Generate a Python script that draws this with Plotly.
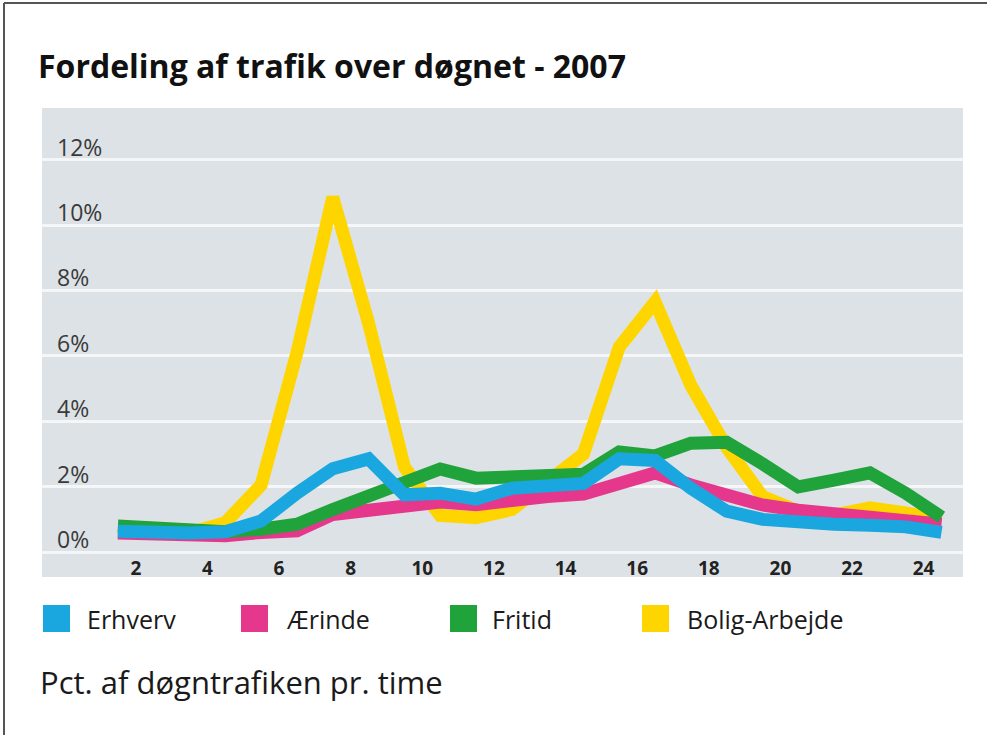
import plotly.graph_objects as go

# ---- data ----
hours = list(range(1, 25))
x_ticks = [2, 4, 6, 8, 10, 12, 14, 16, 18, 20, 22, 24]
y_ticks = [0, 2, 4, 6, 8, 10, 12]
y_tick_labels = ["0%", "2%", "4%", "6%", "8%", "10%", "12%"]

erhverv = [0.64, 0.60, 0.58, 0.62, 0.95, 1.80, 2.55, 2.85, 1.75, 1.80, 1.62, 1.95,
           2.05, 2.10, 2.85, 2.80, 1.95, 1.25, 1.00, 0.88, 0.85, 0.82, 0.77, 0.60]
aerinde = [0.58, 0.55, 0.52, 0.50, 0.60, 0.65, 1.15, 1.28, 1.50, 1.53, 1.45, 1.62,
           1.70, 1.77, 2.05, 2.42, 2.05, 1.74, 1.44, 1.28, 1.16, 1.04, 0.95, 0.85]
fritid = [0.80, 0.72, 0.65, 0.62, 0.70, 0.85, 1.30, 1.71, 2.05, 2.54, 2.26, 2.29,
          2.32, 2.38, 3.06, 2.94, 3.33, 3.36, 2.70, 1.99, 2.20, 2.42, 1.80, 1.07]
bolig = [0.60, 0.55, 0.58, 0.90, 2.05, 6.10, 10.85, 7.00, 2.60, 1.12, 1.05, 1.30,
         2.20, 3.00, 6.27, 7.65, 5.10, 3.20, 1.70, 1.25, 1.13, 1.35, 1.20, 0.98]

series_names = ["Erhverv", "Ærinde", "Fritid", "Bolig-Arbejde"]
series_values = [erhverv, aerinde, fritid, bolig]
series_colors = ["#1aa7e0", "#e5388c", "#21a33c", "#ffd500"]

title_text = "Fordeling af trafik over døgnet - 2007"
subtitle_text = "Pct. af døgntrafiken pr. time"

# ---- layout geometry (pixels) ----
W, H = 987, 735
L, R, T, B = 42, 963, 108, 555      # plot area (x labels sit just below)
BG_BOTTOM = 577                      # grey panel extends under the x labels

def px(x):
    return (x - L) / (R - L)

def py(y):
    return (B - y) / (B - T)

fig = go.Figure()

# draw order: yellow at bottom, then pink, green, blue on top
draw_order = [3, 1, 2, 0]
xs = [h + 0.5 for h in hours]
for i in draw_order:
    fig.add_trace(go.Scatter(
        x=xs, y=series_values[i], mode="lines", name=series_names[i],
        line=dict(color=series_colors[i], width=13),
        showlegend=False, hoverinfo="skip"))

shapes = []
annotations = []

# grey panel behind plot + tick labels
shapes.append(dict(type="rect", xref="paper", yref="paper",
                   x0=0, x1=1, y0=py(BG_BOTTOM), y1=1,
                   fillcolor="#dde2e6", line=dict(width=0), layer="below"))

# y tick labels sitting above their gridlines
for v, lab in zip(y_ticks, y_tick_labels):
    annotations.append(dict(xref="paper", yref="y", x=px(55), y=v,
                            xanchor="left", yanchor="middle", yshift=13,
                            showarrow=False, text=lab,
                            font=dict(family="Open Sans", size=23, color="#3a3a3a")))

# manual legend: coloured squares + labels
sq_left = [43, 241, 450, 642]
txt_left = [85, 284, 490, 685]
for i, name in enumerate(series_names):
    shapes.append(dict(type="rect", xref="paper", yref="paper",
                       x0=px(sq_left[i]), x1=px(sq_left[i] + 27),
                       y0=py(632), y1=py(605),
                       fillcolor=series_colors[i], line=dict(width=0), layer="above"))
    annotations.append(dict(xref="paper", yref="paper", x=px(txt_left[i]), y=py(619),
                            xanchor="left", yanchor="middle", showarrow=False,
                            text=name,
                            font=dict(family="Open Sans", size=25, color="#1a1a1a")))

annotations.append(dict(xref="paper", yref="paper", x=px(38), y=py(682),
                        xanchor="left", yanchor="middle", showarrow=False,
                        text=subtitle_text,
                        font=dict(family="Open Sans", size=31, color="#1a1a1a")))

# outer frame (top + left visible in the reference)
shapes.append(dict(type="line", xref="paper", yref="paper",
                   x0=px(4), x1=px(987), y0=py(3), y1=py(3),
                   line=dict(color="#555555", width=2)))
shapes.append(dict(type="line", xref="paper", yref="paper",
                   x0=px(4), x1=px(4), y0=py(3), y1=py(735),
                   line=dict(color="#555555", width=2)))

fig.update_layout(
    width=W, height=H,
    margin=dict(l=L, r=W - R, t=T, b=H - B),
    paper_bgcolor="white",
    plot_bgcolor="rgba(0,0,0,0)",
    showlegend=False,
    title=dict(text="<b>" + title_text + "</b>", x=38 / W, xanchor="left",
               y=1 - 67 / H, yanchor="middle",
               font=dict(family="Open Sans", size=32, color="#111111")),
    shapes=shapes,
    annotations=annotations,
)

fig.update_xaxes(
    range=[-0.62, 25.1],
    tickvals=x_ticks, ticktext=[str(t) for t in x_ticks],
    ticks="", ticklabelstandoff=0,
    showgrid=False, zeroline=False, showline=False,
    tickfont=dict(family="Open Sans", size=19, color="#222222", weight="bold"),
)
fig.update_yaxes(
    range=[-0.09, 13.58],
    tickvals=y_ticks, showticklabels=False, ticks="",
    showgrid=True, gridcolor="#f4f6f8", gridwidth=3,
    zeroline=False, showline=False,
)

fig.write_html("out.html", config={"displayModeBar": False},
               post_script="document.body.style.margin='0';")
